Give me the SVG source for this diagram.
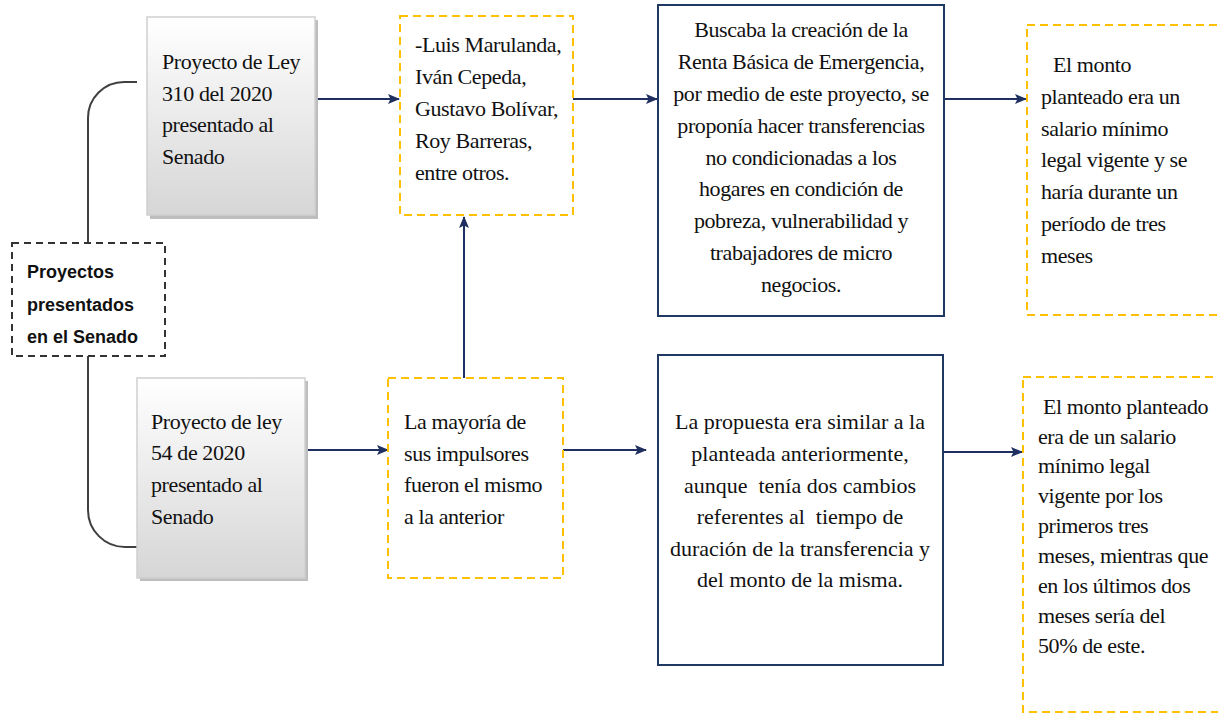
<svg xmlns="http://www.w3.org/2000/svg" width="1218" height="717" viewBox="0 0 1218 717">
<defs>
<linearGradient id="grayGrad" x1="0" y1="0" x2="0" y2="1">
<stop offset="0" stop-color="#ffffff"/>
<stop offset="1" stop-color="#d6d6d6"/>
</linearGradient>
<marker id="arrow" markerWidth="12" markerHeight="12" refX="11" refY="6" orient="auto" markerUnits="userSpaceOnUse">
<path d="M0,1 L12,6 L0,11 L2.5,6 Z" fill="#1f3060"/>
</marker>
</defs>
<style>
.serif{font-family:"Liberation Serif","Times New Roman",serif;font-size:22px;fill:#111111;letter-spacing:-0.4px;}
.wide{letter-spacing:0;}
.bold{font-family:"Liberation Sans",Arial,sans-serif;font-size:18px;font-weight:bold;fill:#111111;}
.gray{fill:url(#grayGrad);stroke:#cfcfcf;stroke-width:1.5;}
.shadow{fill:#bdbdbd;}
.orange{fill:#ffffff;stroke:#ffc000;stroke-width:2;stroke-dasharray:8,5;}
.navy{fill:#ffffff;stroke:#1f3864;stroke-width:2;}
.blackdash{fill:#ffffff;stroke:#333333;stroke-width:2;stroke-dasharray:7,5;}
.conn{fill:none;stroke:#1f3060;stroke-width:2;marker-end:url(#arrow);}
.curve{fill:none;stroke:#404040;stroke-width:2;}
.mid{text-anchor:middle;}
</style>
<g id="connectors">
<path class="curve" d="M88,243 V118 A36,36 0 0 1 124,82 H137"/>
<path class="curve" d="M88,356 V510 A37,37 0 0 0 125,547 H137"/>
<path class="conn" d="M315,99 H399"/>
<path class="conn" d="M573,99 H657"/>
<path class="conn" d="M944,99 H1026"/>
<path class="conn" d="M305,450 H388"/>
<path class="conn" d="M563,450 H646"/>
<path class="conn" d="M944,452 H1022"/>
<path class="conn" d="M464,378 V217"/>
</g>
<g id="node-senado">
<rect class="blackdash" x="12" y="243" width="153" height="113"/>
<text class="bold" x="27" y="278">Proyectos</text>
<text class="bold" x="27" y="311">presentados</text>
<text class="bold" x="27" y="343">en el Senado</text>
</g>
<g id="node-ley310">
<rect class="shadow" x="150" y="20" width="168" height="199"/>
<rect class="gray" x="147" y="17" width="168" height="198"/>
<text class="serif" x="162" y="69">Proyecto de Ley</text>
<text class="serif" x="162" y="101">310 del 2020</text>
<text class="serif" x="162" y="132">presentado al</text>
<text class="serif" x="162" y="164">Senado</text>
</g>
<g id="node-ley54">
<rect class="shadow" x="140" y="381" width="168" height="200"/>
<rect class="gray" x="137" y="378" width="168" height="200"/>
<text class="serif" x="151" y="429">Proyecto de ley</text>
<text class="serif" x="151" y="460">54 de 2020</text>
<text class="serif" x="151" y="492">presentado al</text>
<text class="serif" x="151" y="524">Senado</text>
</g>
<g id="node-autores">
<rect class="orange" x="400" y="16" width="173" height="199"/>
<text class="serif" x="415" y="52">-Luis Marulanda,</text>
<text class="serif" x="415" y="84">Iván Cepeda,</text>
<text class="serif" x="415" y="116">Gustavo Bolívar,</text>
<text class="serif" x="415" y="148">Roy Barreras,</text>
<text class="serif" x="415" y="180">entre otros.</text>
</g>
<g id="node-impulsores">
<rect class="orange" x="388" y="378" width="175" height="200"/>
<text class="serif" x="404" y="429">La mayoría de</text>
<text class="serif" x="404" y="461">sus impulsores</text>
<text class="serif" x="404" y="492">fueron el mismo</text>
<text class="serif" x="404" y="524">a la anterior</text>
</g>
<g id="node-buscaba">
<rect class="navy" x="658" y="5" width="286" height="311"/>
<text class="serif mid" x="801" y="37">Buscaba la creación de la</text>
<text class="serif mid" x="801" y="69">Renta Básica de Emergencia,</text>
<text class="serif mid" x="801" y="101">por medio de este proyecto, se</text>
<text class="serif mid" x="801" y="133">proponía hacer transferencias</text>
<text class="serif mid" x="801" y="165">no condicionadas a los</text>
<text class="serif mid" x="801" y="196">hogares en condición de</text>
<text class="serif mid" x="801" y="228">pobreza, vulnerabilidad y</text>
<text class="serif mid" x="801" y="260">trabajadores de micro</text>
<text class="serif mid" x="801" y="292">negocios.</text>
</g>
<g id="node-propuesta">
<rect class="navy" x="658" y="355" width="285" height="310"/>
<text class="serif wide mid" x="800" y="429">La propuesta era similar a la</text>
<text class="serif wide mid" x="800" y="461">planteada anteriormente,</text>
<text class="serif wide mid" x="800" y="493" xml:space="preserve">aunque  tenía dos cambios</text>
<text class="serif wide mid" x="800" y="524" xml:space="preserve">referentes al  tiempo de</text>
<text class="serif wide mid" x="800" y="556">duración de la transferencia y</text>
<text class="serif wide mid" x="800" y="587">del monto de la misma.</text>
</g>
<g id="node-monto1">
<rect class="orange" x="1027" y="25" width="210" height="290"/>
<text class="serif" x="1053" y="72">El monto</text>
<text class="serif" x="1041" y="104">planteado era un</text>
<text class="serif" x="1041" y="136">salario mínimo</text>
<text class="serif" x="1041" y="167">legal vigente y se</text>
<text class="serif" x="1041" y="199">haría durante un</text>
<text class="serif" x="1041" y="231">período de tres</text>
<text class="serif" x="1041" y="263">meses</text>
</g>
<g id="node-monto2">
<rect class="orange" x="1023" y="377" width="210" height="335"/>
<text class="serif" x="1043" y="414">El monto planteado</text>
<text class="serif" x="1038" y="444">era de un salario</text>
<text class="serif" x="1038" y="473">mínimo legal</text>
<text class="serif" x="1038" y="503">vigente por los</text>
<text class="serif" x="1038" y="533">primeros tres</text>
<text class="serif" x="1038" y="563">meses, mientras que</text>
<text class="serif" x="1038" y="593">en los últimos dos</text>
<text class="serif" x="1038" y="623">meses sería del</text>
<text class="serif" x="1038" y="653">50% de este.</text>
</g>
</svg>
